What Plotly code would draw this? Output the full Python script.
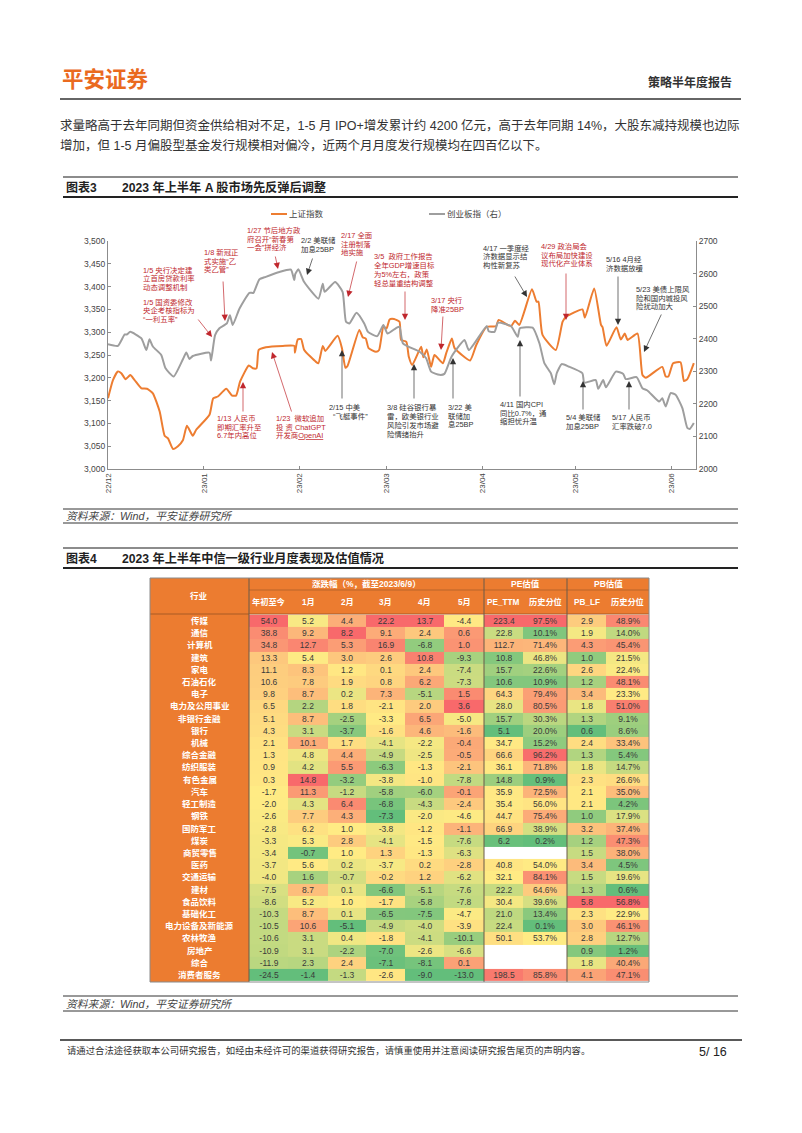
import plotly.graph_objects as go
from datetime import datetime, timedelta

# ---------- chart 3 data ----------
SH_DAYS = [0,1.6,3.2,4.3,5.7,7.2,8.6,10.8,12.6,14.5,16.7,18.3,19.4,21,22.6,24.2,25.5,27.4,28.5,32.8,34,35.5,38.2,40.1,41.4,42.7,45.5,46.8,48,48.7,51,56.5,60.2,60.4,61.3,62.4,63.4,67.2,68,69.4,70.2,74.2,75.6,76.7,77.4,81.2,82.3,83.3,84.2,86.6,87.6,89,90,91,92.4,94.2,94.7,96.4,97.2,98.3,101.2,101.9,103,104.4,105.5,108.2,109.3,111.1,112,117,119,122.4,125.4,126.2,130.2,131.5,132.9,137,138.5,139.1,140.4,144.7,146.9,148,153.3,154.1,157.1,159.3,159.8,161.1,164.3,165.7,167,167.9,171.1,172.7,173.8,179.1,180.2,181.1,182.6,185,186.1,187.2,189.3]
SH_VALUES = [3155,3195,3214,3210,3197,3206,3195,3177,3176,3166,3126,3073,3067,3044,3050,3063,3095,3073,3086,3119,3155,3159,3176,3161,3161,3192,3227,3221,3221,3261,3267,3270,3270,3255,3284,3285,3261,3235,3232,3270,3259,3292,3265,3222,3226,3305,3289,3286,3265,3257,3261,3312,3308,3328,3329,3323,3283,3279,3246,3228,3268,3245,3262,3224,3250,3232,3254,3286,3265,3238,3272,3312,3313,3327,3313,3325,3316,3394,3367,3367,3294,3261,3323,3334,3350,3332,3396,3316,3311,3270,3311,3284,3297,3283,3297,3206,3200,3224,3203,3203,3232,3234,3193,3197,3232]
CY_DAYS = [0,3.2,5.4,6.1,7.2,10.8,12.4,13.4,14.5,17.2,18.6,21.2,24.2,25.3,26.3,27.4,32.8,33.3,34.6,36,38.4,39.4,40.3,42.5,45.7,47,48.9,51,55.4,59.1,60.2,60.5,61.5,63.4,68,69.4,70,73.4,75.8,76.9,78,80.3,82.8,84,87,89,90.3,93,94.2,95.3,100.7,102.8,104.4,107.1,108.7,111,115.2,116.6,122.4,123,124.9,126,130.2,132.4,133.1,137.2,139.4,141,143.1,144.2,145,146.6,149,153.3,153.9,157.6,158.4,160,160.9,164.1,166.5,167.3,170.8,172.7,174.3,178.1,179.1,180.2,181.8,183.4,185.6,187.2,188,189.3]
CY_VALUES = [2383,2378,2413,2413,2421,2401,2365,2398,2376,2350,2309,2284,2337,2358,2338,2347,2357,2333,2411,2432,2447,2472,2442,2493,2541,2541,2582,2590,2605,2612,2580,2598,2613,2574,2523,2569,2544,2574,2544,2452,2447,2480,2447,2421,2408,2442,2416,2432,2437,2386,2360,2340,2299,2289,2292,2345,2396,2365,2439,2423,2421,2449,2439,2406,2432,2434,2386,2325,2294,2260,2294,2322,2314,2294,2265,2273,2246,2273,2251,2299,2292,2276,2282,2248,2241,2207,2217,2192,2233,2228,2187,2126,2123,2141]
MONTH_TICKS = ["2022-12-01","2023-01-01","2023-02-01","2023-03-01","2023-04-01","2023-05-01","2023-06-01"]

# ---------- chart 4 data ----------
INDUSTRIES = ["传媒","通信","计算机","建筑","家电","石油石化","电子","电力及公用事业","非银行金融","银行","机械","综合金融","纺织服装","有色金属","汽车","轻工制造","钢铁","国防军工","煤炭","商贸零售","医药","交通运输","建材","食品饮料","基础化工","电力设备及新能源","农林牧渔","房地产","综合","消费者服务"]
YTD = [54.0,38.8,34.8,13.3,11.1,10.6,9.8,6.5,5.1,4.3,2.1,1.3,0.9,0.3,-1.7,-2.0,-2.6,-2.8,-3.3,-3.4,-3.7,-4.0,-7.5,-8.6,-10.3,-10.5,-10.6,-10.9,-11.9,-24.5]
JAN = [5.2,9.2,12.7,5.4,8.3,7.8,8.7,2.2,8.7,3.1,10.1,4.8,4.2,14.8,11.3,4.3,7.7,6.2,5.3,-0.7,5.6,1.6,8.7,5.2,8.7,10.6,3.1,3.1,2.3,-1.4]
FEB = [4.4,8.2,5.3,3.0,1.2,1.9,0.2,1.8,-2.5,-3.7,1.7,4.4,5.5,-3.2,-1.2,6.4,4.3,1.0,2.8,1.0,0.2,-0.7,0.1,1.0,0.1,-5.1,0.4,-2.2,2.4,-1.3]
MAR = [22.2,9.1,16.9,2.6,0.1,0.8,7.3,-2.1,-3.3,-1.6,-4.1,-4.9,-6.3,-3.8,-5.8,-6.8,-7.3,-3.8,-4.1,1.3,-3.7,-0.2,-6.6,-1.7,-6.5,-4.9,-1.8,-7.0,-7.1,-2.6]
APR = [13.7,2.4,-6.8,10.8,2.4,6.2,-5.1,2.0,6.5,4.6,-2.2,-2.5,-1.3,-1.0,-6.0,-4.3,-2.0,-1.2,-1.5,-1.3,0.2,1.2,-5.1,-5.8,-7.5,-4.0,-4.1,-2.6,-8.1,-9.0]
MAY = [-4.4,0.6,1.0,-9.3,-7.4,-7.3,1.5,3.6,-5.0,-1.6,-0.4,-0.5,-2.1,-7.8,-0.1,-2.4,-4.6,-1.1,-7.6,-6.3,-2.8,-6.2,-7.6,-7.8,-4.7,-3.9,-10.1,-6.6,0.1,-13.0]
PE_TTM = [223.4,22.8,112.7,10.8,15.7,10.6,64.3,28.0,15.7,5.1,34.7,66.6,36.1,14.8,35.9,35.4,44.7,66.9,6.2,None,40.8,32.1,22.2,30.4,21.0,22.4,50.1,None,None,198.5]
PE_PCT = [97.5,10.1,71.4,46.8,22.6,10.9,79.4,80.5,30.3,20.0,15.2,96.2,71.8,0.9,72.5,56.0,75.4,38.9,0.2,None,54.0,84.1,64.6,39.6,13.4,0.1,53.7,None,None,85.8]
PB_LF = [2.9,1.9,4.3,1.0,2.6,1.2,3.4,1.8,1.3,0.6,2.4,1.3,1.8,2.3,2.1,2.1,1.0,3.2,1.2,1.5,3.4,1.5,1.3,5.8,2.3,3.0,2.8,0.9,1.8,4.1]
PB_PCT = [48.9,14.0,45.4,21.5,22.4,48.1,23.3,51.0,9.1,8.6,33.4,5.4,14.7,26.6,35.0,4.2,17.9,37.4,47.3,38.0,4.5,19.6,0.6,56.8,22.9,46.1,12.7,1.2,40.4,47.1]
COL_HEADS = ["年初至今","1月","2月","3月","4月","5月","PE_TTM","历史分位","PB_LF","历史分位"]
COLUMNS = [YTD,JAN,FEB,MAR,APR,MAY,PE_TTM,PE_PCT,PB_LF,PB_PCT]

# ---------- styling ----------
W, H = 802, 1133
FONT = "Liberation Sans, Noto Sans CJK SC, sans-serif"
ORANGE, GRAY = "#ED7D31", "#9E9E9E"
RED_T, BLK_T = "#C0272D", "#333333"
HEAD = "#EC7C30"
COL_EDGES = [249,288,328,366,405,444,484,523,567,606,649]
BASE = datetime(2022,12,1)
def dates(days): return [BASE + timedelta(days=d) for d in days]
def px(x): return x / W
def py(y): return 1 - y / H

fig = go.Figure()
fig.add_trace(go.Scatter(x=dates(CY_DAYS), y=CY_VALUES, name="创业板指（右）", mode="lines", yaxis="y2", xaxis="x",
                         line=dict(color=GRAY, width=2, shape="spline", smoothing=0.5), showlegend=False))
fig.add_trace(go.Scatter(x=dates(SH_DAYS), y=SH_VALUES, name="上证指数", mode="lines", yaxis="y", xaxis="x",
                         line=dict(color=ORANGE, width=2, shape="spline", smoothing=0.5), showlegend=False))

def median(v):
    s = sorted(v); n = len(s)
    return s[n//2] if n % 2 else (s[n//2-1] + s[n//2]) / 2
def scale_col(col):
    v = [c for c in col if c is not None]
    lo, mid, hi = min(v), median(v), max(v)
    out = []
    for c in col:
        if c is None: out.append(None)
        elif c >= mid: out.append((c-mid)/(hi-mid))
        else: out.append((c-mid)/(mid-lo))
    return out
scaled = [scale_col(c) for c in COLUMNS]
z = [[scaled[j][i] for j in range(10)] for i in range(30)]
def fmt(v, j):
    if v is None: return ""
    return f"{v:.1f}%" if j in (7, 9) else f"{v:.1f}"
text = [[fmt(COLUMNS[j][i], j) for j in range(10)] for i in range(30)]
fig.add_trace(go.Heatmap(z=z, x=COL_EDGES, y=INDUSTRIES, text=text, texttemplate="%{text}",
                         textfont=dict(size=8.5, color="#3a3a3a", family=FONT), xaxis="x3", yaxis="y3",
                         zmin=-1, zmax=1, showscale=False, hoverongaps=False,
                         colorscale=[[0,"#63BE7B"],[0.5,"#FFEB84"],[1,"#F8696B"]]))

shapes, ann = [], []
def rect(x0,y0,x1,y1,fill,layer="below"):
    shapes.append(dict(type="rect",xref="paper",yref="paper",x0=px(x0),x1=px(x1),y0=py(y0),y1=py(y1),
                       fillcolor=fill,line=dict(width=0),layer=layer))
def line(x0,y0,x1,y1,color,w=1):
    shapes.append(dict(type="line",xref="paper",yref="paper",x0=px(x0),x1=px(x1),y0=py(y0),y1=py(y1),
                       line=dict(color=color,width=w),layer="above"))
PAD = 2  # annotations inset their text by this much
def label(x,y,t,size=8,color=BLK_T,anchor="left",family=FONT):
    xx = x - PAD if anchor == "left" else (x + PAD if anchor == "right" else x)
    ann.append(dict(xref="paper",yref="paper",x=px(xx),y=py(y),text=t,showarrow=False,xanchor=anchor,yanchor="middle",
                    align="left" if anchor=="left" else "center",font=dict(size=size,color=color,family=family)))
def arrow(x0,y0,x1,y1,color):
    ann.append(dict(xref="paper",yref="paper",x=px(x1),y=py(y1),ax=x0-x1,ay=y0-y1,axref="pixel",ayref="pixel",text="",
                    showarrow=True,arrowhead=2,arrowsize=1.8,arrowwidth=0.7,arrowcolor=color))

# page furniture
label(62,80,"<b>平安证券</b>",21.5,"#EA6A1F")
label(732,82,"<b>策略半年度报告</b>",12,"#333333",anchor="right")
line(60,99,741,99,"#666666",2)
label(60,125,"求量略高于去年同期但资金供给相对不足，1-5 月 IPO+增发累计约 4200 亿元，高于去年同期 14%，大股东减持规模也边际",12.5,"#333333")
label(60,145,"增加，但 1-5 月偏股型基金发行规模相对偏冷，近两个月月度发行规模均在四百亿以下。",12.5,"#333333")

for top,bot,num,title in [(177,197,"图表3","2023 年上半年 A 股市场先反弹后调整"),(548,568,"图表4","2023 年上半年中信一级行业月度表现及估值情况")]:
    line(63,top,738,top,"#666666",1.3)
    line(63,bot,738,bot,"#222222",2)
    label(66,(top+bot)/2+0.5,f"<b>{num}</b>",12,"#222222")
    label(122,(top+bot)/2+0.5,f"<b>{title}</b>",12.2,"#222222")
for top,bot in [(509,523),(996,1011)]:
    line(63,top,738,top,"#333333",1)
    line(63,bot,738,bot,"#333333",1)
    label(66,(top+bot)/2,"<i>资料来源：Wind，平安证券研究所</i>",10.8,"#444444")
line(60,1040,742,1040,"#222222",1.5)
label(67,1050,"请通过合法途径获取本公司研究报告，如经由未经许可的渠道获得研究报告，请慎重使用并注意阅读研究报告尾页的声明内容。",9.35,"#333333")
label(727,1052,"5/ 16",12.5,"#222222",anchor="right")

# chart legend
line(271,214,287,214,ORANGE,2)
label(289,214,"上证指数",8.5,"#444444")
line(429,214,445,214,GRAY,2)
label(447,214,"创业板指（右）",8.5,"#444444")

# chart callouts: text x, centre y, text, colour, arrow start/end
CALLOUTS = [
 (143,279,"1/5 央行决定建<br>立首房贷款利率<br>动态调整机制",RED_T,None),
 (143,311,"1/5 国资委修改<br>央企考核指标为<br>“一利五率”",RED_T,(197,318,212,337)),
 (204,261,"1/8 新冠正<br>式实施“乙<br>类乙管”",RED_T,(223,280,225,321)),
 (247,239,"1/27 节后地方政<br>府召开“新春第<br>一会”拼经济",RED_T,(275,255,278,269)),
 (301,245,"2/2 美联储<br>加息25BP",BLK_T,(313,257,307,275)),
 (341,244,"2/17 全面<br>注册制落<br>地实施",RED_T,(357,260,348,297)),
 (217,427,"1/13 人民币<br>即期汇率升至<br>6.7年内高位",RED_T,(243,413,243,382)),
 (276,427,"1/23  微软追加<br>投 资 ChatGPT<br>开发商<u>OpenAI</u>",RED_T,(292,413,272,352)),
 (329,412,"2/15 中美<br>  “飞艇事件”",BLK_T,(342,400,342,350)),
 (387,421,"3/8 硅谷银行暴<br>雷，欧美银行业<br>风险引发市场避<br>险情绪抬升",BLK_T,(414,400,414,364)),
 (374,270,"3/5  政府工作报告<br>全年GDP增速目标<br>为5%左右，政策<br>轻总量重结构调整",RED_T,(405,290,405,320)),
 (431,305,"3/17 央行<br>降准25BP",RED_T,(443,315,441,350)),
 (448,416,"3/22 美<br>联储加<br>息25BP",BLK_T,(453,400,453,358)),
 (500,413,"4/11 国内CPI<br>同比0.7%，通<br>缩担忧升温",BLK_T,(520,398,520,340)),
 (483,257,"4/17 一季度经<br>济数据显示结<br>构性新复苏",BLK_T,(514,275,527,297)),
 (541,255,"4/29 政治局会<br>议布局加快建设<br>现代化产业体系",RED_T,(566,272,566,320)),
 (606,264,"5/16 4月经<br>济数据放缓",BLK_T,(618,275,618,325)),
 (636,298,"5/23 美债上限风<br>险和国内城投风<br>险扰动加大",BLK_T,(662,313,644,352)),
 (566,422,"5/4 美联储<br>加息25BP",BLK_T,(583,411,583,381)),
 (612,422,"5/17 人民币<br>汇率跌破7.0",BLK_T,(629,411,629,381)),
]
PITCH = 8.8
for x,y,t,c,a in CALLOUTS:
    lines = t.split("<br>")
    for k,s in enumerate(lines):
        label(x,y+(k-(len(lines)-1)/2)*PITCH,s,7.4,c)
    if a: arrow(*a,c)

# table header + first column
rect(150,578,649,614,HEAD)
rect(150,614,249,982,HEAD)
line(249,590,649,590,"#B8652A",1)
line(150,614,649,614,"#A85A25",1)
line(249,578,249,982,"#6B5A48",1)
line(484,578,484,982,"#6B5A48",1)
line(567,578,567,982,"#6B5A48",1)
for a,b,c,d in [(150,578,649,578),(150,982,649,982),(150,578,150,982),(649,578,649,982)]:
    line(a,b,c,d,"#8a8a8a",1)
W_T = "#FFFFFF"
label(199,596,"<b>行业</b>",8.5,W_T,anchor="center")
label(366,584,"<b>涨跌幅（%，截至2023/6/9）</b>",8.5,W_T,anchor="center")
label(525,584,"<b>PE估值</b>",8.5,W_T,anchor="center")
label(608,584,"<b>PB估值</b>",8.5,W_T,anchor="center")
for j,h in enumerate(COL_HEADS):
    label((COL_EDGES[j]+COL_EDGES[j+1])/2,602,f"<b>{h}</b>",8.2,W_T,anchor="center")
for name in INDUSTRIES:
    ann.append(dict(xref="paper",yref="y3",x=px(199.5),y=name,text=f"<b>{name}</b>",showarrow=False,xanchor="center",
                    yanchor="middle",font=dict(size=8.5,color=W_T,family=FONT)))

AX = "#8c8c8c"
fig.update_layout(
    width=W, height=H, margin=dict(l=0,r=0,t=0,b=0,autoexpand=False), paper_bgcolor="white", plot_bgcolor="rgba(0,0,0,0)",
    font=dict(family=FONT), showlegend=False, shapes=shapes, annotations=ann,
    xaxis=dict(domain=[px(108),px(696)], anchor="y", type="date",
               range=[datetime(2022,12,1), datetime(2023,6,9)],
               tickmode="array", tickvals=MONTH_TICKS, tickformat="%y/%m", tickangle=-90,
               ticks="inside", ticklen=3, tickcolor=AX, showline=True, linecolor=AX, linewidth=1,
               showgrid=False, zeroline=False, tickfont=dict(size=8,color="#444444")),
    yaxis=dict(domain=[py(469),py(241)], anchor="x", range=[3000,3500], dtick=50, tickformat=",d",
               ticks="inside", ticklen=3, tickcolor=AX, showline=True, linecolor=AX, linewidth=1,
               showgrid=False, zeroline=False, tickfont=dict(size=8.5,color="#444444")),
    yaxis2=dict(domain=[py(469),py(241)], anchor="x", overlaying="y", side="right", range=[2000,2700], dtick=100,
                ticks="inside", ticklen=3, tickcolor=AX, showline=True, linecolor=AX, linewidth=1,
                showgrid=False, zeroline=False, tickfont=dict(size=8.5,color="#444444")),
    xaxis3=dict(domain=[px(249),px(649)], anchor="y3", range=[249,649], visible=False),
    yaxis3=dict(domain=[py(982),py(614)], anchor="x3", type="category", autorange="reversed", visible=False),
)
fig.write_html("out.html", config={"displayModeBar": False}, post_script="document.body.style.margin='0';")
